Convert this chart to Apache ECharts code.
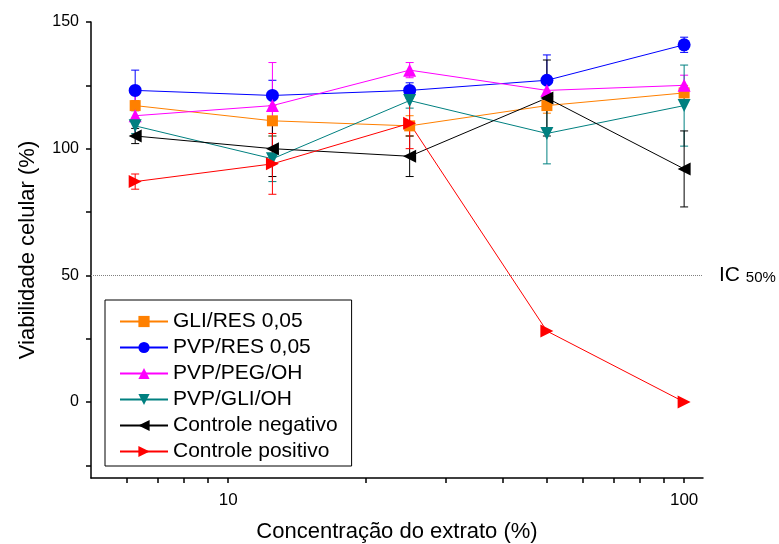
<!DOCTYPE html>
<html>
<head>
<meta charset="utf-8">
<script src="https://cdn.jsdelivr.net/npm/echarts@6/dist/echarts.min.js"></script>
<style>
	html, body { margin: 0; padding: 0; background: #fff; }
</style>
</head>
<body>
<div id="myChart" style="width: 779px; height: 544px;"></div>
<script>
	// concentrações do extrato (%)
	var concentracoes = [6.25, 12.5, 25, 50, 100];

	// viabilidade média (%) e desvio de cada série
	var gliRes = [117, 111, 109, 117, 122];
	var gliResErr = [2, 6, 4, 3, 3];
	var pvpRes = [123, 121, 123, 127, 141];
	var pvpResErr = [8, 6, 3, 10, 3];
	var pvpPegOh = [113, 117, 131, 123, 125];
	var pvpPegOhErr = [8, 17, 3, 3, 4];
	var pvpGliOh = [109, 96, 119, 106, 117];
	var pvpGliOhErr = [3, 9, 3, 12, 16];
	var ctrlNeg = [105, 100, 97, 120, 92];
	var ctrlNegErr = [3, 11, 8, 15, 15];
	var ctrlPos = [87, 94, 110, 28, 0];
	var ctrlPosErr = [3, 12, 10, 0, 0];

	var nomes = ['GLI/RES 0,05', 'PVP/RES 0,05', 'PVP/PEG/OH', 'PVP/GLI/OH', 'Controle negativo', 'Controle positivo'];
	var cores = ['#FF8000', '#0000FF', '#FF00FF', '#008080', '#000000', '#FF0000'];

	// ticks
	var xTicks = [6, 7, 8, 9, 10, 20, 30, 40, 50, 60, 70, 80, 90, 100];
	var xLabels = [10, 100];
	var yTicks = [-25, 0, 25, 50, 75, 100, 125, 150];
	var yLabels = [0, 50, 100, 150];

	var fonte = 'Liberation Sans, Arial, sans-serif';

	function pontos(vals) {
		var out = [];
		for (let i = 0; i < vals.length; i++) {
			out.push([concentracoes[i], vals[i]]);
		}
		return out;
	}

	function barras(vals, errs) {
		var out = [];
		for (let i = 0; i < vals.length; i++) {
			if (errs[i] > 0) out.push([concentracoes[i], vals[i] - errs[i], vals[i] + errs[i]]);
		}
		return out;
	}

	function desenhaErro(cor) {
		return function (params, api) {
			var x = api.value(0);
			var topo = api.coord([x, api.value(2)]);
			var base = api.coord([x, api.value(1)]);
			var w = 4;
			var st = { stroke: cor, lineWidth: 1 };
			return {
				type: 'group',
				children: [
					{ type: 'line', shape: { x1: topo[0], y1: topo[1], x2: base[0], y2: base[1] }, style: st },
					{ type: 'line', shape: { x1: topo[0] - w, y1: topo[1], x2: topo[0] + w, y2: topo[1] }, style: st },
					{ type: 'line', shape: { x1: base[0] - w, y1: base[1], x2: base[0] + w, y2: base[1] }, style: st }
				]
			};
		};
	}

	var valores = [gliRes, pvpRes, pvpPegOh, pvpGliOh, ctrlNeg, ctrlPos];
	var erros = [gliResErr, pvpResErr, pvpPegOhErr, pvpGliOhErr, ctrlNegErr, ctrlPosErr];
	var simbolos = ['rect', 'circle', 'triangle', 'triangle', 'triangle', 'triangle'];
	var rotacoes = [0, 0, 0, 180, 90, -90];
	var tamanhos = [11, 13, 13, 13, 13, 13];

	var series = [];
	for (let i = 0; i < valores.length; i++) {
		series.push({
			name: 'erro' + i,
			type: 'custom',
			renderItem: desenhaErro(cores[i]),
			data: barras(valores[i], erros[i]),
			z: 1,
			silent: true
		});
	}
	for (let i = 0; i < valores.length; i++) {
		series.push({
			name: nomes[i],
			type: 'line',
			data: pontos(valores[i]),
			symbol: simbolos[i],
			symbolRotate: rotacoes[i],
			symbolSize: tamanhos[i],
			showAllSymbol: true,
			color: cores[i],
			lineStyle: { width: 1, color: cores[i] },
			itemStyle: { color: cores[i] },
			z: 3
		});
	}
	// linha IC50
	series[series.length - 1].markLine = {
		silent: true,
		symbol: ['none', 'none'],
		lineStyle: { type: 'dotted', color: '#808080', width: 1 },
		label: {
			position: 'end',
			distance: 16,
			formatter: 'IC {s|50%}',
			color: '#000',
			fontSize: 21,
			fontFamily: fonte,
			rich: { s: { fontSize: 15, fontFamily: fonte, color: '#000', padding: [5, 0, 0, 0] } }
		},
		data: [{ yAxis: 50 }]
	};

	var option = {
		animation: false,
		backgroundColor: '#fff',
		grid: { left: 91, right: 76, top: 22, bottom: 66, containLabel: false, outerBoundsMode: 'none' },
		legend: {
			data: nomes,
			orient: 'vertical',
			left: 105,
			top: 300,
			padding: [11, 14, 4, 14],
			itemWidth: 48,
			itemHeight: 14,
			itemGap: 5,
			borderColor: '#000',
			borderWidth: 1,
			textStyle: { fontSize: 21, color: '#000', fontFamily: fonte },
			selectedMode: false
		},
		xAxis: {
			type: 'log',
			logBase: 10,
			min: 5,
			max: 110,
			name: 'Concentração do extrato (%)',
			nameLocation: 'middle',
			nameGap: 43,
			nameTextStyle: { fontSize: 22, color: '#000', fontFamily: fonte },
			axisLine: { onZero: false, lineStyle: { color: '#000', width: 1.5 } },
			axisTick: { customValues: xTicks, length: 5, lineStyle: { color: '#000', width: 1.5 } },
			axisLabel: { customValues: xLabels, fontSize: 17, color: '#000', fontFamily: fonte, margin: 14 },
			splitLine: { show: false },
			minorTick: { show: false }
		},
		yAxis: {
			type: 'value',
			min: -30,
			max: 150,
			name: 'Viabilidade celular (%)',
			nameLocation: 'middle',
			nameGap: 52,
			nameTextStyle: { fontSize: 22, color: '#000', fontFamily: fonte },
			axisLine: { show: true, onZero: false, lineStyle: { color: '#000', width: 1.5 } },
			axisTick: { show: true, customValues: yTicks, length: 5, lineStyle: { color: '#000', width: 1.5 } },
			axisLabel: { customValues: yLabels, fontSize: 16, color: '#000', fontFamily: fonte, margin: 12 },
			splitLine: { show: false }
		},
		series: series
	};

	let myChart = echarts.init(document.getElementById('myChart'));
	myChart.setOption(option);
</script>
</body>
</html>
